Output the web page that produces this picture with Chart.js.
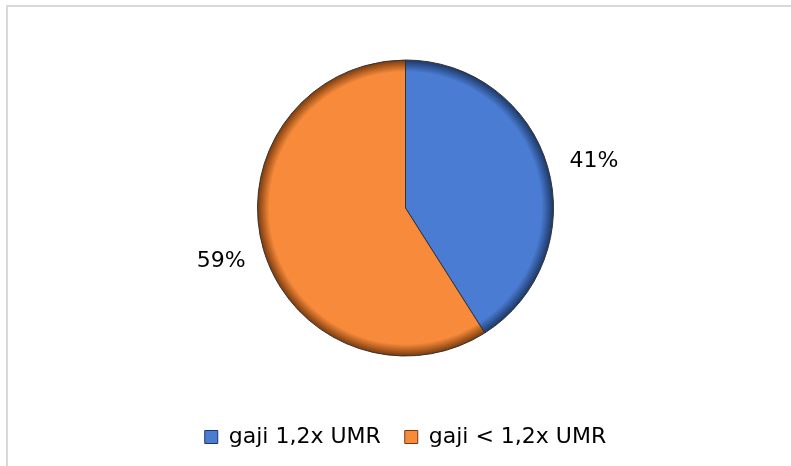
<!DOCTYPE html>
<html>
<head>
<meta charset="utf-8">
<script src="https://cdn.jsdelivr.net/npm/chart.js@4"></script>
<style>
  html, body { margin: 0; padding: 0; background: #fff; overflow: hidden; }
  #frame { position: absolute; left: 6px; top: 5px; width: 900px; height: 600px; border: 2px solid #d9d9d9; }
  #wrap { position: absolute; left: 0; top: 0; width: 791px; height: 466px; }
</style>
</head>
<body>
<div id="frame"></div>
<div id="wrap"><canvas id="chart"></canvas></div>
<script>
const labels = ['gaji 1,2x UMR', 'gaji < 1,2x UMR'];
const values = [41, 59];
const baseColors = ['#4a7cd3', '#f78a3b'];
const edgeColors = ['#1c3766', '#7a3a0c'];
// small nudges for the percentage labels, in px
const labelNudge = [[4, 7], [0, 0]];

// bevelled fill: flat in the middle, darker at the rim
function sliceFill(ctx) {
  const chart = ctx.chart;
  const area = chart.chartArea;
  const i = ctx.dataIndex;
  if (!area || ctx.type !== 'data') return baseColors[i];
  const cx = (area.left + area.right) / 2;
  const cy = (area.top + area.bottom) / 2;
  const r = 148;
  const g = chart.ctx.createRadialGradient(cx, cy, 0, cx, cy, r);
  g.addColorStop(0, baseColors[i]);
  g.addColorStop(0.92, baseColors[i]);
  g.addColorStop(1, edgeColors[i]);
  return g;
}

const pctLabels = {
  id: 'pctLabels',
  afterDatasetsDraw(chart) {
    const { ctx } = chart;
    const meta = chart.getDatasetMeta(0);
    const total = values.reduce((a, b) => a + b, 0);
    ctx.save();
    ctx.font = '22px "DejaVu Sans", Verdana, sans-serif';
    ctx.fillStyle = '#000';
    ctx.textAlign = 'center';
    ctx.textBaseline = 'middle';
    meta.data.forEach((arc, i) => {
      const mid = (arc.startAngle + arc.endAngle) / 2;
      const d = arc.outerRadius + 44;
      const x = arc.x + Math.cos(mid) * d + labelNudge[i][0];
      const y = arc.y + Math.sin(mid) * d + labelNudge[i][1];
      ctx.fillText(Math.round(values[i] / total * 100) + '%', x, y);
    });
    ctx.restore();
  }
};

new Chart(document.getElementById('chart'), {
  type: 'pie',
  data: {
    labels: labels,
    datasets: [{
      data: values,
      backgroundColor: sliceFill,
      borderColor: '#333',
      borderWidth: 1,
      radius: 148
    }]
  },
  options: {
    responsive: true,
    maintainAspectRatio: false,
    animation: false,
    layout: { padding: { left: 20, right: 0, top: 0, bottom: 8 } },
    plugins: {
      legend: {
        position: 'bottom',
        labels: {
          boxWidth: 13,
          boxHeight: 13,
          padding: 10,
          color: '#000',
          font: { family: '"DejaVu Sans", Verdana, sans-serif', size: 22 },
          generateLabels(chart) {
            return labels.map((t, i) => ({
              text: i === 0 ? t + '  ' : t,
              fillStyle: baseColors[i],
              strokeStyle: edgeColors[i],
              lineWidth: 1,
              index: i
            }));
          }
        }
      },
      tooltip: { enabled: false }
    }
  },
  plugins: [pctLabels]
});
</script>
</body>
</html>
